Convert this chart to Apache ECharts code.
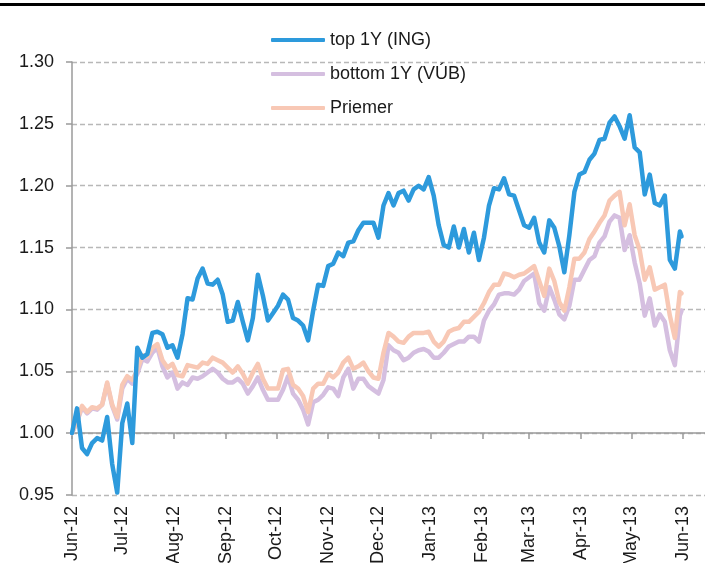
<!DOCTYPE html>
<html>
<head>
<meta charset="utf-8">
<script src="https://cdn.jsdelivr.net/npm/echarts@6/dist/echarts.min.js"></script>
<style>
  html, body { margin: 0; padding: 0; background: #fff; }
  #chart { width: 705px; height: 563px; }
</style>
</head>
<body>
<div id="chart"></div>
<script>
// sampled every 3 days
const dates = [
  '2012-06-01','2012-06-04','2012-06-07','2012-06-10','2012-06-13','2012-06-16','2012-06-19','2012-06-22','2012-06-25','2012-06-28',
  '2012-07-01','2012-07-04','2012-07-07','2012-07-10','2012-07-13','2012-07-16','2012-07-19','2012-07-22','2012-07-25','2012-07-28',
  '2012-07-31','2012-08-03','2012-08-06','2012-08-09','2012-08-12','2012-08-15','2012-08-18','2012-08-21','2012-08-24','2012-08-27',
  '2012-08-30','2012-09-02','2012-09-05','2012-09-08','2012-09-11','2012-09-14','2012-09-17','2012-09-20','2012-09-23','2012-09-26',
  '2012-09-29','2012-10-02','2012-10-05','2012-10-08','2012-10-11','2012-10-14','2012-10-17','2012-10-20','2012-10-23','2012-10-26',
  '2012-10-29','2012-11-01','2012-11-04','2012-11-07','2012-11-10','2012-11-13','2012-11-16','2012-11-19','2012-11-22','2012-11-25',
  '2012-11-28','2012-12-01','2012-12-04','2012-12-07','2012-12-10','2012-12-13','2012-12-16','2012-12-19','2012-12-22','2012-12-25',
  '2012-12-28','2012-12-31','2013-01-03','2013-01-06','2013-01-09','2013-01-12','2013-01-15','2013-01-18','2013-01-21','2013-01-24',
  '2013-01-27','2013-01-30','2013-02-02','2013-02-05','2013-02-08','2013-02-11','2013-02-14','2013-02-17','2013-02-20','2013-02-23',
  '2013-02-26','2013-03-01','2013-03-04','2013-03-07','2013-03-10','2013-03-13','2013-03-16','2013-03-19','2013-03-22','2013-03-25',
  '2013-03-28','2013-03-31','2013-04-03','2013-04-06','2013-04-09','2013-04-12','2013-04-15','2013-04-18','2013-04-21','2013-04-24',
  '2013-04-27','2013-04-30','2013-05-03','2013-05-06','2013-05-09','2013-05-12','2013-05-15','2013-05-18','2013-05-21','2013-05-24',
  '2013-05-27','2013-05-30','2013-05-31'
];

const topING = [
  1.000, 1.020, 0.988, 0.983, 0.992, 0.996, 0.994, 1.013, 0.975, 0.952,
  1.008, 1.024, 0.992, 1.069, 1.061, 1.064, 1.081, 1.082, 1.080, 1.069,
  1.071, 1.061, 1.080, 1.109, 1.108, 1.125, 1.133, 1.121, 1.120, 1.124,
  1.112, 1.090, 1.091, 1.106, 1.090, 1.075, 1.093, 1.128, 1.111, 1.091,
  1.097, 1.103, 1.112, 1.108, 1.093, 1.091, 1.087, 1.075, 1.099, 1.120,
  1.119, 1.135, 1.137, 1.146, 1.143, 1.154, 1.155, 1.164, 1.170, 1.170,
  1.170, 1.158, 1.184, 1.194, 1.184, 1.194, 1.196, 1.188, 1.197, 1.200,
  1.197, 1.207, 1.192, 1.168, 1.152, 1.150, 1.167, 1.150, 1.165, 1.146,
  1.162, 1.140, 1.158, 1.184, 1.198, 1.197, 1.206, 1.193, 1.192, 1.180,
  1.168, 1.166, 1.174, 1.154, 1.146, 1.172, 1.166, 1.151, 1.130, 1.160,
  1.195, 1.209, 1.211, 1.221, 1.226, 1.237, 1.238, 1.251, 1.256, 1.248,
  1.238, 1.257, 1.231, 1.227, 1.193, 1.209, 1.186, 1.184, 1.192, 1.140,
  1.133, 1.163, 1.159
];

const bottomVUB = [
  1.000, 1.009, 1.021, 1.016, 1.020, 1.019, 1.023, 1.040, 1.022, 1.011,
  1.036, 1.044, 1.040, 1.048, 1.060, 1.058, 1.065, 1.069, 1.054, 1.045,
  1.049, 1.036, 1.041, 1.039, 1.045, 1.044, 1.046, 1.049, 1.052, 1.049,
  1.044, 1.041, 1.041, 1.044, 1.040, 1.032, 1.038, 1.045, 1.035, 1.027,
  1.027, 1.027, 1.035, 1.046, 1.032, 1.027, 1.019, 1.007, 1.025, 1.027,
  1.031, 1.037, 1.036, 1.030, 1.045, 1.052, 1.036, 1.044, 1.044, 1.038,
  1.035, 1.032, 1.043, 1.071, 1.067, 1.065, 1.059, 1.061, 1.065, 1.067,
  1.068, 1.066, 1.061, 1.061, 1.065, 1.070, 1.072, 1.074, 1.074, 1.078,
  1.078, 1.074, 1.091, 1.099, 1.104, 1.112, 1.113, 1.113, 1.112, 1.116,
  1.123, 1.126, 1.129, 1.105, 1.099, 1.118, 1.108, 1.096, 1.092, 1.103,
  1.124, 1.124, 1.132, 1.140, 1.143, 1.154, 1.159, 1.171, 1.176, 1.174,
  1.148, 1.160, 1.138, 1.121, 1.095, 1.109, 1.087, 1.096, 1.090, 1.067,
  1.055, 1.095, 1.099
];

const priemer = [
  1.000, 1.010, 1.022, 1.017, 1.021, 1.020, 1.023, 1.041, 1.023, 1.013,
  1.039, 1.046, 1.043, 1.051, 1.063, 1.062, 1.069, 1.072, 1.059, 1.053,
  1.056, 1.047, 1.046, 1.055, 1.054, 1.053, 1.057, 1.056, 1.061, 1.059,
  1.057, 1.053, 1.049, 1.054, 1.048, 1.040, 1.049, 1.056, 1.044, 1.036,
  1.036, 1.036, 1.051, 1.052, 1.039, 1.036, 1.030, 1.017, 1.036, 1.040,
  1.040, 1.048, 1.045, 1.049, 1.057, 1.061, 1.052, 1.054, 1.057, 1.050,
  1.045, 1.044, 1.065, 1.081, 1.078, 1.074, 1.073, 1.078, 1.081, 1.081,
  1.081, 1.082, 1.074, 1.070, 1.074, 1.082, 1.084, 1.085, 1.090, 1.090,
  1.094, 1.098, 1.105, 1.114, 1.120, 1.120, 1.129, 1.128, 1.126, 1.128,
  1.129, 1.132, 1.135, 1.123, 1.111, 1.133, 1.123, 1.106, 1.099, 1.118,
  1.141, 1.141, 1.146, 1.157, 1.163, 1.170, 1.176, 1.188, 1.192, 1.195,
  1.168, 1.185, 1.160, 1.148, 1.124, 1.134, 1.116, 1.118, 1.120, 1.095,
  1.077, 1.114, 1.113
];

const monthTicks = [
  '2012-06-01','2012-07-01','2012-08-01','2012-09-01','2012-10-01','2012-11-01','2012-12-01',
  '2013-01-01','2013-02-01','2013-03-01','2013-04-01','2013-05-01','2013-06-01'
];
const monthNames = ['Jan','Feb','Mar','Apr','May','Jun','Jul','Aug','Sep','Oct','Nov','Dec'];

const seriesNames = ['top 1Y (ING)', 'bottom 1Y (VÚB)', 'Priemer'];
const colors = ['#2d9adc', '#d5bfe0', '#f8c8b5'];

const ts = s => Date.UTC(+s.slice(0, 4), +s.slice(5, 7) - 1, +s.slice(8, 10));
const font = "'Liberation Sans', Arial, sans-serif";

const myChart = echarts.init(document.getElementById('chart'));

const lineStyle = c => ({ width: 4.5, color: c, cap: 'round', join: 'round' });

const option = {
  animation: false,
  color: colors,
  grid: { left: 72, right: 0, top: 62, bottom: 68, outerBoundsMode: 'none' },
  legend: {
    data: seriesNames,
    orient: 'vertical',
    left: 266,
    top: 25,
    icon: 'roundRect',
    itemWidth: 54,
    itemHeight: 4,
    itemGap: 14,
    textStyle: { fontFamily: font, fontSize: 18, color: '#1a1a1a', lineHeight: 20 }
  },
  xAxis: {
    type: 'value',
    min: ts('2012-06-01'),
    max: ts('2013-06-14'),
    offset: -62,
    axisLine: { lineStyle: { color: '#9a9a9a', width: 1.5 } },
    axisTick: {
      customValues: monthTicks.map(ts),
      length: 6,
      lineStyle: { color: '#9a9a9a', width: 1.5 }
    },
    splitLine: { show: false },
    axisLabel: {
      customValues: monthTicks.map(ts),
      rotate: 90,
      margin: 73,
      fontFamily: font,
      fontSize: 18,
      color: '#1a1a1a',
      formatter: function (v) {
        const d = new Date(v);
        return monthNames[d.getUTCMonth()] + '-' + String(d.getUTCFullYear()).slice(2);
      }
    }
  },
  yAxis: {
    type: 'value',
    min: 0.95,
    max: 1.30,
    interval: 0.05,
    axisLine: { show: true, lineStyle: { color: '#9a9a9a', width: 1.5 } },
    axisTick: { show: true, length: 6, lineStyle: { color: '#9a9a9a', width: 1.5 } },
    splitLine: { lineStyle: { color: '#b8b8b8', type: [5, 3], width: 1.4 } },
    axisLabel: {
      margin: 18,
      fontFamily: font,
      fontSize: 18,
      color: '#1a1a1a',
      formatter: v => v.toFixed(2)
    }
  },
  graphic: [
    { type: 'rect', left: 0, top: 3, shape: { width: 705, height: 3 }, style: { fill: '#000' } }
  ],
  series: [
    {
      name: seriesNames[0], type: 'line', z: 4, showSymbol: false,
      lineStyle: lineStyle(colors[0]),
      data: dates.map((d, i) => [ts(d), topING[i]])
    },
    {
      name: seriesNames[1], type: 'line', z: 2, showSymbol: false,
      lineStyle: lineStyle(colors[1]),
      data: dates.map((d, i) => [ts(d), bottomVUB[i]])
    },
    {
      name: seriesNames[2], type: 'line', z: 3, showSymbol: false,
      lineStyle: lineStyle(colors[2]),
      data: dates.map((d, i) => [ts(d), priemer[i]])
    }
  ]
};
myChart.setOption(option);
</script>
</body>
</html>
